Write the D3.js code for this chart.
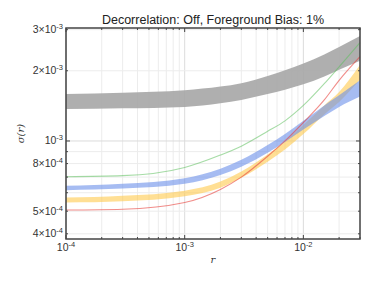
<!DOCTYPE html>
<html>
<head>
<meta charset="utf-8">
<script src="https://cdn.jsdelivr.net/npm/d3@7"></script>
<style>
  body { margin: 0; background: #fff; }
  svg text { font-family: "Liberation Sans", Arial, sans-serif; }
</style>
</head>
<body>
<svg id="chart" width="374" height="281"></svg>
<script>
// r values the curves were read at
const rVals = [1e-4, 3e-4, 1e-3, 2e-3, 3e-3, 5e-3, 7e-3, 1e-2, 1.5e-2, 2e-2, 3e-2];

// grey band (lower / upper)
const greyLo = [1.37e-3, 1.38e-3, 1.40e-3, 1.45e-3, 1.50e-3, 1.59e-3, 1.66e-3, 1.75e-3, 1.89e-3, 2.02e-3, 2.21e-3];
const greyHi = [1.59e-3, 1.61e-3, 1.65e-3, 1.71e-3, 1.77e-3, 1.90e-3, 2.01e-3, 2.15e-3, 2.35e-3, 2.53e-3, 2.82e-3];
// blue band
const blueLo = [6.15e-4, 6.25e-4, 6.55e-4, 7.15e-4, 7.75e-4, 8.9e-4, 9.9e-4, 1.12e-3, 1.28e-3, 1.40e-3, 1.55e-3];
const blueHi = [6.42e-4, 6.55e-4, 6.92e-4, 7.6e-4, 8.3e-4, 9.6e-4, 1.07e-3, 1.22e-3, 1.42e-3, 1.57e-3, 1.82e-3];
// yellow band
const yellowLo = [5.45e-4, 5.52e-4, 5.8e-4, 6.3e-4, 6.95e-4, 8.15e-4, 9.2e-4, 1.07e-3, 1.30e-3, 1.47e-3, 1.83e-3];
const yellowHi = [5.72e-4, 5.82e-4, 6.12e-4, 6.7e-4, 7.4e-4, 8.75e-4, 9.95e-4, 1.17e-3, 1.42e-3, 1.62e-3, 2.12e-3];
// thin lines
const greenVals = [7.03e-4, 7.1e-4, 7.7e-4, 8.7e-4, 9.5e-4, 1.1e-3, 1.22e-3, 1.42e-3, 1.76e-3, 2.08e-3, 2.64e-3];
const redVals = [5.06e-4, 5.1e-4, 5.45e-4, 6.2e-4, 7.0e-4, 8.6e-4, 1.0e-3, 1.2e-3, 1.5e-3, 1.82e-3, 2.3e-3];

// tick labels
const xTicks = [[1e-4, "-4"], [1e-3, "-3"], [1e-2, "-2"]];
const yTicks = [[3e-3, "3×", "-3"], [2e-3, "2×", "-3"], [1e-3, "", "-3"], [8e-4, "8×", "-4"], [5e-4, "5×", "-4"], [4e-4, "4×", "-4"]];
const titleText = "Decorrelation: Off, Foreground Bias: 1%";

const svg = d3.select("#chart");
const L = 66, R = 360, T = 28, B = 239;

const x = d3.scaleLog().domain([1e-4, 3e-2]).range([L, R]);
const y = d3.scaleLog().domain([3.8e-4, 3.05e-3]).range([B, T]);

// minor grid values
const xGrid = [], yGrid = [];
[1e-4, 1e-3, 1e-2].forEach(d => { for (let k = 1; k < 10; k++) { let v = d * k; if (v <= 3e-2 + 1e-12) xGrid.push(v); } });
[1e-4, 1e-3].forEach(d => { for (let k = 1; k < 10; k++) { let v = d * k; if (v >= 3.8e-4 && v <= 3.05e-3) yGrid.push(v); } });

svg.append("g").selectAll("line").data(xGrid).join("line")
	.attr("x1", d => x(d)).attr("x2", d => x(d)).attr("y1", T).attr("y2", B)
	.style("stroke", d => [1e-4, 1e-3, 1e-2].includes(d) ? "#dcdcdc" : "#ececec").style("stroke-width", 1);
svg.append("g").selectAll("line").data(yGrid).join("line")
	.attr("x1", L).attr("x2", R).attr("y1", d => y(d)).attr("y2", d => y(d))
	.style("stroke", d => d == 1e-3 ? "#dcdcdc" : "#ececec").style("stroke-width", 1);

const band = (lo, hi) => d3.area()
	.x((d, i) => x(rVals[i]))
	.y0((d, i) => y(lo[i]))
	.y1((d, i) => y(hi[i]))
	.curve(d3.curveMonotoneX)(rVals);
const line = vals => d3.line()
	.x((d, i) => x(rVals[i]))
	.y((d, i) => y(vals[i]))
	.curve(d3.curveMonotoneX)(rVals);

const plot = svg.append("g");
plot.append("path").attr("d", band(greyLo, greyHi)).style("fill", "#a6a6a6").style("opacity", 0.9);
plot.append("path").attr("d", line(greenVals)).style("fill", "none").style("stroke", "#5cc05c").style("stroke-width", 1.1).style("opacity", 0.55);
plot.append("path").attr("d", band(yellowLo, yellowHi)).style("fill", "#ffc94d").style("opacity", 0.6);
plot.append("path").attr("d", band(blueLo, blueHi)).style("fill", "#6a8fea").style("opacity", 0.6);
plot.append("path").attr("d", line(redVals)).style("fill", "none").style("stroke", "#e8413c").style("stroke-width", 1.1).style("opacity", 0.6);

// frame
svg.append("rect").attr("x", L).attr("y", T).attr("width", R - L).attr("height", B - T)
	.style("fill", "none").style("stroke", "#444").style("stroke-width", 1.5);

// inward ticks
const tk = svg.append("g").style("stroke", "#444");
xGrid.forEach(v => {
	let len = [1e-4, 1e-3, 1e-2].includes(v) ? 4 : 2;
	tk.append("line").attr("x1", x(v)).attr("x2", x(v)).attr("y1", B).attr("y2", B - len);
	tk.append("line").attr("x1", x(v)).attr("x2", x(v)).attr("y1", T).attr("y2", T + len);
});
yGrid.forEach(v => {
	let len = v == 1e-3 ? 4 : 2;
	tk.append("line").attr("x1", L).attr("x2", L + len).attr("y1", y(v)).attr("y2", y(v));
	tk.append("line").attr("x1", R).attr("x2", R - len).attr("y1", y(v)).attr("y2", y(v));
});

// x tick labels
xTicks.forEach(t => {
	let tx = svg.append("text").attr("x", x(t[0])).attr("y", B + 12).attr("text-anchor", "middle")
		.style("font-size", "10.5px").style("fill", "#333");
	tx.append("tspan").text("10");
	tx.append("tspan").attr("dy", -4).style("font-size", "7.5px").text(t[1]);
});
// y tick labels
yTicks.forEach(t => {
	let tx = svg.append("text").attr("x", L - 3).attr("y", y(t[0]) + 3.5).attr("text-anchor", "end")
		.style("font-size", "10.5px").style("fill", "#333");
	tx.append("tspan").text(t[1] + "10");
	tx.append("tspan").attr("dy", -4).style("font-size", "7.5px").text(t[2]);
});

svg.append("text").attr("x", (L + R) / 2).attr("y", 24).attr("text-anchor", "middle")
	.style("font-size", "12.5px").style("fill", "#222").text(titleText);
svg.append("text").attr("x", (L + R) / 2).attr("y", 263).attr("text-anchor", "middle")
	.style("font-family", "DejaVu Serif, serif").style("font-style", "italic").style("font-size", "10px").style("fill", "#333").text("r");
svg.append("text").attr("transform", "translate(24," + ((T + B) / 2) + ") rotate(-90)").attr("text-anchor", "middle")
	.style("font-family", "DejaVu Serif, serif").style("font-style", "italic").style("font-size", "10px").style("fill", "#333").text("σ(r)");
</script>
</body>
</html>
